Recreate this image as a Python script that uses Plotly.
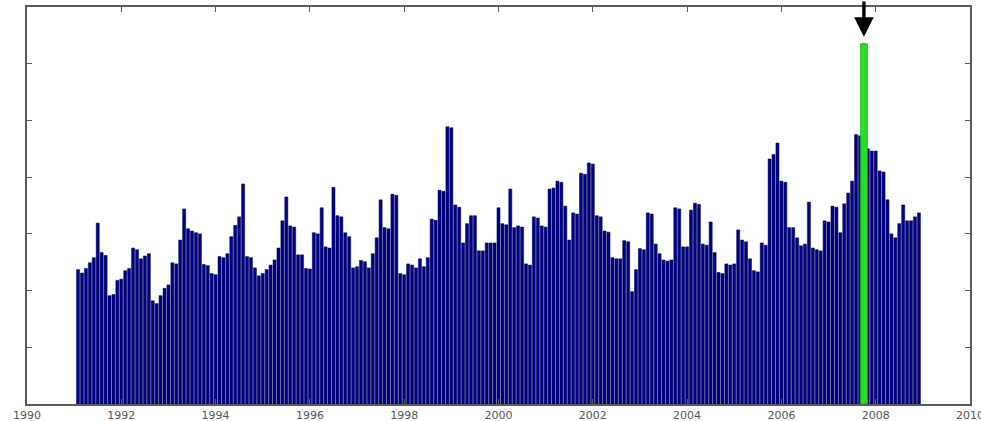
import plotly.graph_objects as go

# Monthly values, starting Feb 1991 (x = 1991 + k/12, k = 1..N)
start_year = 1991
values = [
    2.37, 2.31, 2.39, 2.49, 2.58, 3.19, 2.67, 2.62, 1.91, 1.93, 2.18, 2.20,   # 1991
    2.35, 2.39, 2.75, 2.72, 2.56, 2.61, 2.65, 1.82, 1.77, 1.91, 2.04, 2.10,   # 1992
    2.49, 2.47, 2.89, 3.44, 3.09, 3.05, 3.02, 3.00, 2.46, 2.44, 2.30, 2.28,   # 1993
    2.60, 2.58, 2.65, 2.95, 3.15, 3.30, 3.88, 2.60, 2.58, 2.40, 2.26, 2.30,   # 1994
    2.37, 2.45, 2.54, 2.75, 3.23, 3.65, 3.14, 3.12, 2.63, 2.63, 2.39, 2.38,   # 1995
    3.02, 3.00, 3.46, 2.77, 2.75, 3.82, 3.32, 3.30, 3.02, 2.95, 2.40, 2.42,   # 1996
    2.53, 2.51, 2.40, 2.65, 2.93, 3.60, 3.11, 3.09, 3.70, 3.68, 2.30, 2.28,   # 1997
    2.47, 2.45, 2.40, 2.56, 2.42, 2.58, 3.26, 3.24, 3.77, 3.75, 4.89, 4.87,   # 1998
    3.51, 3.47, 2.84, 3.18, 3.32, 3.32, 2.70, 2.70, 2.84, 2.84, 2.84, 3.46,   # 1999
    3.18, 3.16, 3.79, 3.11, 3.14, 3.12, 2.47, 2.45, 3.30, 3.28, 3.14, 3.12,   # 2000
    3.79, 3.81, 3.93, 3.91, 3.49, 2.89, 3.37, 3.35, 4.07, 4.05, 4.25, 4.23,   # 2001
    3.32, 3.30, 3.05, 3.03, 2.58, 2.56, 2.56, 2.88, 2.86, 1.98, 2.37,         # 2002
    2.74, 2.72, 3.37, 3.35, 2.82, 2.65, 2.54, 2.52, 2.54, 3.46, 3.44, 2.77,   # 2003
    2.77, 3.42, 3.54, 3.52, 2.82, 2.80, 3.21, 2.67, 2.32, 2.30, 2.47, 2.45,   # 2004
    2.47, 3.07, 2.89, 2.86, 2.56, 2.35, 2.33, 2.84, 2.80, 4.32, 4.40, 4.60,   # 2005
    3.93, 3.91, 3.11, 3.11, 2.93, 2.79, 2.82, 3.56, 2.75, 2.72, 2.70, 3.23,   # 2006
    3.21, 3.49, 3.47, 3.02, 3.53, 3.72, 3.93, 4.75, 4.73, 6.35, 4.50, 4.46,   # 2007
    4.46, 4.11, 4.09, 3.60, 3.00, 2.93, 3.18, 3.51, 3.23, 3.23, 3.30, 3.37,   # 2008
]
x_tick_values = list(range(1990, 2011, 2))
x_tick_labels = [str(v) for v in x_tick_values]
y_tick_values = list(range(0, 8))

xs = [start_year + (k + 1) / 12 for k in range(len(values))]
hi = values.index(max(values))
hx, hv = xs[hi], values[hi]

fig = go.Figure()
fig.add_bar(x=xs, y=values, width=0.78 / 12,
            marker=dict(color="#00008c", line=dict(color="#000040", width=0.5)),
            hoverinfo="x+y")
fig.add_bar(x=[hx], y=[hv], width=0.15,
            marker=dict(color="#22e022", line=dict(color="#18a818", width=0.6)),
            hoverinfo="x+y")

fig.add_annotation(x=hx, y=hv, xref="x", yref="y", text="", showarrow=True,
                   ax=0, ay=-50, arrowhead=2, arrowsize=1.15, arrowwidth=3.4,
                   arrowcolor="#000000", standoff=7)

axis_common = dict(showline=True, linecolor="#5a5a5a", linewidth=1.5, mirror="ticks",
                   ticks="inside", ticklen=5, tickwidth=1, tickcolor="#5a5a5a",
                   showgrid=False, zeroline=False, automargin=False)

fig.update_layout(
    width=981, height=421,
    margin=dict(l=27, r=11, t=7, b=17, autoexpand=False),
    paper_bgcolor="white", plot_bgcolor="white",
    barmode="overlay", showlegend=False,
    xaxis=dict(range=[1990, 2010], tickvals=x_tick_values, ticktext=x_tick_labels,
               tickfont=dict(family="DejaVu Sans", size=11, color="#555555"),
               ticklabeloverflow="allow", ticklabelstandoff=0,
               **axis_common),
    yaxis=dict(range=[0, 7], tickvals=y_tick_values, showticklabels=False,
               **axis_common),
)

fig.write_html("out.html")
